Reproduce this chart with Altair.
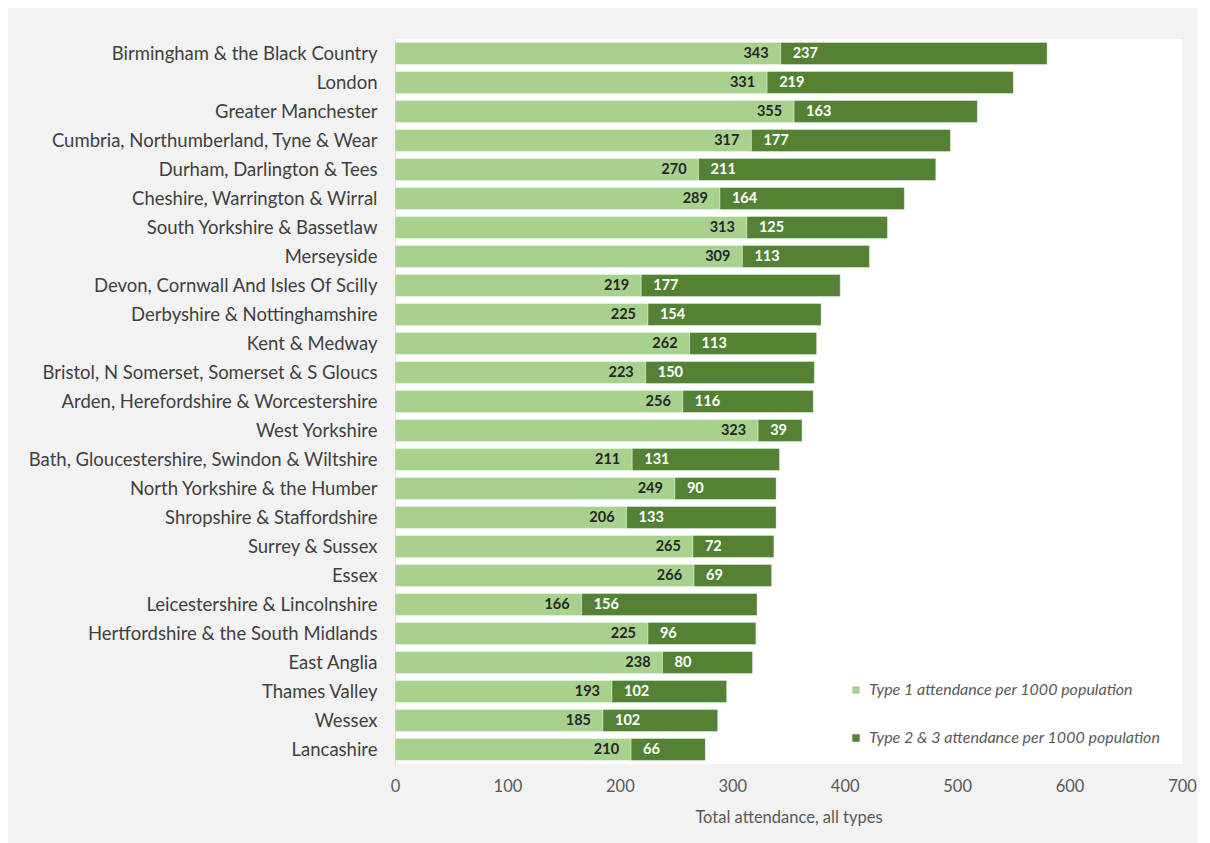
import altair as alt
import pandas as pd

regions = [
    "Birmingham & the Black Country", "London", "Greater Manchester",
    "Cumbria, Northumberland, Tyne & Wear", "Durham, Darlington & Tees",
    "Cheshire, Warrington & Wirral", "South Yorkshire & Bassetlaw", "Merseyside",
    "Devon, Cornwall And Isles Of Scilly", "Derbyshire & Nottinghamshire",
    "Kent & Medway", "Bristol, N Somerset, Somerset & S Gloucs",
    "Arden, Herefordshire & Worcestershire", "West Yorkshire",
    "Bath, Gloucestershire, Swindon & Wiltshire", "North Yorkshire & the Humber",
    "Shropshire & Staffordshire", "Surrey & Sussex", "Essex",
    "Leicestershire & Lincolnshire", "Hertfordshire & the South Midlands",
    "East Anglia", "Thames Valley", "Wessex", "Lancashire",
]
type1 = [343, 331, 355, 317, 270, 289, 313, 309, 219, 225, 262, 223, 256, 323,
         211, 249, 206, 265, 266, 166, 225, 238, 193, 185, 210]
type23 = [237, 219, 163, 177, 211, 164, 125, 113, 177, 154, 113, 150, 116, 39,
          131, 90, 133, 72, 69, 156, 96, 80, 102, 102, 66]
series = ["Type 1 attendance per 1000 population",
          "Type 2 & 3 attendance per 1000 population"]
colors = ["#a9d18e", "#548235"]
x_ticks = [0, 100, 200, 300, 400, 500, 600, 700]

df = pd.DataFrame({"region": regions, "t1": type1, "t23": type23})

FONT = "Lato"

base = alt.Chart(df)

bars = base.transform_fold(
    ["t1", "t23"], as_=["k", "value"]
).transform_calculate(
    series=f"datum.k == 't1' ? '{series[0]}' : '{series[1]}'",
    ord="datum.k == 't1' ? 0 : 1",
).mark_bar(stroke="#ffffff", strokeWidth=0.6, strokeOpacity=0.6).encode(
    y=alt.Y("region:N", sort=regions, title=None,
            scale=alt.Scale(paddingInner=0.24, paddingOuter=0.12),
            axis=alt.Axis(labelFont=FONT, labelFontSize=18.5, labelColor="#404040",
                          labelPadding=18, ticks=False, domain=True,
                          domainColor="#d9d9d9", labelLimit=400)),
    x=alt.X("value:Q", stack="zero", title="Total attendance, all types",
            scale=alt.Scale(domain=[0, 700], nice=False),
            axis=alt.Axis(values=x_ticks, grid=False, domain=False, ticks=False,
                          labelFlush=False,
                          labelFont=FONT, labelFontSize=16.5, labelColor="#595959",
                          labelPadding=14, titleFont=FONT, titleFontSize=16.5,
                          titleColor="#595959", titleFontWeight="normal",
                          titlePadding=15)),
    color=alt.Color("series:N", scale=alt.Scale(domain=series, range=colors),
                    legend=alt.Legend(title=None, orient="none", legendX=453,
                                      legendY=643, symbolType="square",
                                      symbolSize=55, symbolStrokeWidth=0,
                                      labelFont=FONT, labelFontSize=16,
                                      labelFontStyle="italic", labelColor="#595959",
                                      labelOffset=5, rowPadding=32,
                                      labelLimit=400)),
    order=alt.Order("ord:Q"),
)

lab1 = base.mark_text(align="right", baseline="middle", dx=-12, font=FONT,
                      fontSize=14.5, fontWeight="bold", color="#262626").encode(
    y=alt.Y("region:N", sort=regions),
    x="t1:Q",
    text="t1:Q",
)
lab2 = base.mark_text(align="left", baseline="middle", dx=12, font=FONT,
                      fontSize=14.5, fontWeight="bold", color="#ffffff").encode(
    y=alt.Y("region:N", sort=regions),
    x="t1:Q",
    text="t23:Q",
)

chart = alt.layer(bars, lab1, lab2).properties(
    width=787, height=725,
    autosize=alt.AutoSizeParams(type="none"),
    padding={"left": 387, "top": 31, "right": 15, "bottom": 79},
    background="#f2f2f2",
).configure_view(fill="#ffffff", stroke=None)

chart.save("out.html", embed_options={"renderer": "svg", "actions": False})
